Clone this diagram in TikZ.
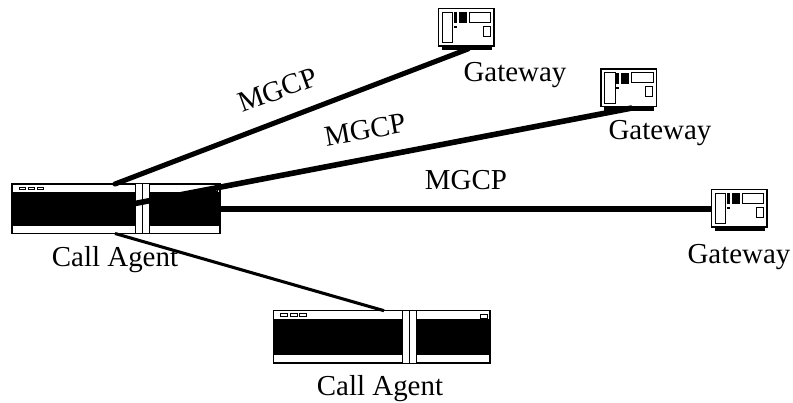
\documentclass[tikz,border=0pt]{standalone}
\usepackage{fontspec}
\setmainfont{Liberation Serif}
\tikzset{
  x=0.75pt,y=-0.75pt,
  devline/.style={draw=black,line width=0.9pt,fill=white},
  thin part/.style={draw=black,line width=0.6pt,fill=white},
  solid part/.style={fill=black,draw=none},
  thick link/.style={line width=4.2pt,black},
  mid link/.style={line width=3.8pt,black},
  thin link/.style={line width=2.3pt,black},
  lbl/.style={font=\fontsize{21.7}{26}\selectfont,inner sep=0pt,text=black},
  unit box/.style={draw=none,fill=none,inner sep=0pt,outer sep=0pt,anchor=north west},
}
% #1 name, #2 x, #3 y, #4 width, #5 height
\newcommand{\callagent}[5]{%
  \node[unit box,minimum width=#4*0.75pt,minimum height=#5*0.75pt] (#1) at (#2,#3) {};
  \begin{scope}[shift={(#2,#3)},xscale=#4/216.5,yscale=#5/52.3]
    \draw[devline] (0,0) rectangle (216.5,52.3);
    \fill[solid part] (0,8.3) rectangle (216.5,44.3);
    \draw[thin part] (128.5,-0.2) rectangle (142.5,52.4);
    \draw[black,line width=0.7pt] (135.5,0) -- (135.5,52.3);
    \draw[thin part,line width=0.5pt] (7.2,3) rectangle (14.2,6);
    \draw[thin part,line width=0.5pt] (16.5,3) rectangle (23.5,6);
    \draw[thin part,line width=0.5pt] (26,3) rectangle (33,6);
    \draw[thin part,line width=0.5pt] (206.5,3.2) rectangle (213.5,7.5);
  \end{scope}}
% #1 name, #2 x, #3 y
\newcommand{\gateway}[3]{%
  \node[unit box,minimum width=41.5pt,minimum height=28.3pt] (#1) at (#2,#3) {};
  \begin{scope}[shift={(#2,#3)}]
    \fill[solid part] (3,37) rectangle (53,41.7);
    \draw[devline] (0,0) rectangle (55.3,37.7);
    \draw[thin part] (3.6,3.7) rectangle (14,34.4);
    \fill[solid part] (15.3,3.7) rectangle (18,14.7);
    \fill[solid part] (15.3,17.7) rectangle (18,20);
    \fill[solid part] (20.3,3.7) rectangle (28,14.7);
    \draw[thin part] (30.6,3.7) rectangle (52,13.7);
    \draw[thin part] (44.6,17.7) rectangle (51.3,27.7);
  \end{scope}}
\begin{document}
\begin{tikzpicture}
\useasboundingbox (0,0) rectangle (793,403);
\callagent{a1}{12}{184}{208}{49.5}
\callagent{a2}{273.5}{310.7}{216.5}{52.3}
\gateway{g1}{438.7}{8.3}
\gateway{g2}{601}{69}
\gateway{g3}{711.7}{189.3}
\coordinate (a1t) at (115,184);
\coordinate (a1m) at (135,203.5);
\coordinate (a1r) at (220,209);
\coordinate (a1b) at (115,233.5);
\coordinate (a2t) at (384,310.7);
\coordinate (g1b) at (468,49);
\coordinate (g2b) at (632,108);
\coordinate (g3l) at (712,209);
\draw[mid link,line cap=round] (a1t) -- (g1b);
\draw[thick link] (a1m) -- (g2b);
\draw[thick link] (a1r) -- (g3l);
\draw[thin link] (a1b) -- (a2t);
\node[lbl] (l1) at (277.5,90) [rotate=20] {MGCP};
\node[lbl] (l2) at (365,130) [rotate=10] {MGCP};
\node[lbl] (l3) at (466,180) {MGCP};
\node[lbl] (t1) at (515,75) {Gateway};
\node[lbl] (t2) at (660,133) {Gateway};
\node[lbl] (t3) at (739,257) {Gateway};
\node[lbl] (t4) at (115,260) {Call Agent};
\node[lbl] (t5) at (380,389) {Call Agent};
\end{tikzpicture}
\end{document}
